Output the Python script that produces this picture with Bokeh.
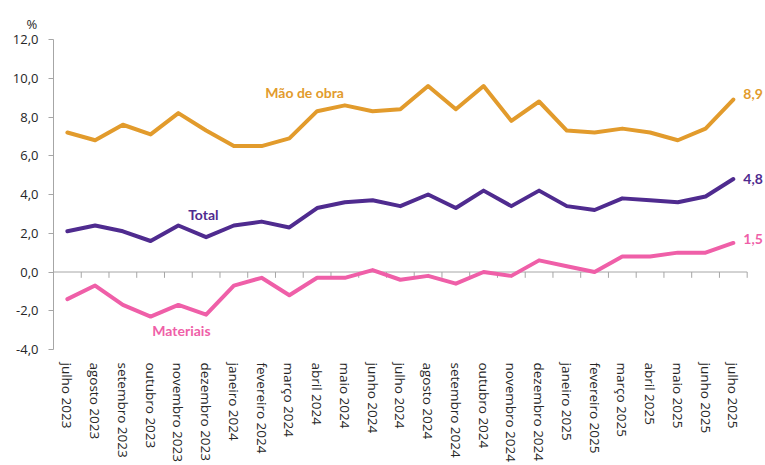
from bokeh.plotting import figure
from bokeh.models import Range1d, FixedTicker
from bokeh.core.properties import value
from bokeh.embed import file_html
from bokeh.resources import INLINE

months = ["julho 2023", "agosto 2023", "setembro 2023", "outubro 2023", "novembro 2023",
          "dezembro 2023", "janeiro 2024", "fevereiro 2024", "março 2024", "abril 2024",
          "maio 2024", "junho 2024", "julho 2024", "agosto 2024", "setembro 2024",
          "outubro 2024", "novembro 2024", "dezembro 2024", "janeiro 2025", "fevereiro 2025",
          "março 2025", "abril 2025", "maio 2025", "junho 2025", "julho 2025"]

mao_de_obra = [7.2, 6.8, 7.6, 7.1, 8.2, 7.3, 6.5, 6.5, 6.9, 8.3, 8.6, 8.3, 8.4,
               9.6, 8.4, 9.6, 7.8, 8.8, 7.3, 7.2, 7.4, 7.2, 6.8, 7.4, 8.9]
total = [2.1, 2.4, 2.1, 1.6, 2.4, 1.8, 2.4, 2.6, 2.3, 3.3, 3.6, 3.7, 3.4,
         4.0, 3.3, 4.2, 3.4, 4.2, 3.4, 3.2, 3.8, 3.7, 3.6, 3.9, 4.8]
materiais = [-1.4, -0.7, -1.7, -2.3, -1.7, -2.2, -0.7, -0.3, -1.2, -0.3, -0.3, 0.1, -0.4,
             -0.2, -0.6, 0.0, -0.2, 0.6, 0.3, 0.0, 0.8, 0.8, 1.0, 1.0, 1.5]

y_ticks = [-4, -2, 0, 2, 4, 6, 8, 10, 12]

series_names = ["Mão de obra", "Total", "Materiais"]
colors = ["#E29B2C", "#4F2B8F", "#EF5FA8"]

n = len(months)
xs = list(range(n))

def fmt(v):
    return f"{v:.1f}".replace(".", ",")

p = figure(width=765, height=465, output_backend="svg", toolbar_location=None,
           x_range=Range1d(-0.5, n - 0.5 + 0.66), y_range=Range1d(-4, 12),
           min_border_left=53, min_border_right=0, min_border_top=39, min_border_bottom=0)
p.outline_line_color = None
p.xgrid.visible = False
p.ygrid.visible = False
p.background_fill_color = "white"
p.border_fill_color = "white"

# unit label as title
p.title.text = "%"
p.title.align = "left"
p.title.offset = -27
p.title.standoff = 14
p.title.text_font = "Open Sans"
p.title.text_font_style = "normal"
p.title.text_font_size = "13px"
p.title.text_color = "#262626"

# y axis
p.yaxis.ticker = FixedTicker(ticks=y_ticks)
p.yaxis.major_label_overrides = {v: fmt(v) for v in y_ticks}
p.yaxis.axis_line_color = "#A6A6A6"
p.yaxis.major_tick_line_color = "#A6A6A6"
p.yaxis.major_tick_out = 5
p.yaxis.major_tick_in = 0
p.yaxis.minor_tick_line_color = None
p.yaxis.major_label_standoff = 10
p.yaxis.major_label_text_font = "Open Sans"
p.yaxis.major_label_text_font_size = "13px"
p.yaxis.major_label_text_color = "#262626"

# x axis (labels only)
p.xaxis.ticker = FixedTicker(ticks=xs)
p.xaxis.major_label_overrides = {i: m for i, m in enumerate(months)}
p.xaxis.major_label_orientation = "vertical"
p.xaxis.axis_line_color = None
p.xaxis.major_tick_line_color = None
p.xaxis.minor_tick_line_color = None
p.xaxis.major_tick_out = 0
p.xaxis.major_tick_in = 0
p.xaxis.major_label_standoff = 13
p.xaxis.major_label_text_font = "Open Sans"
p.xaxis.major_label_text_font_size = "13.5px"
p.xaxis.major_label_text_color = "#262626"

# zero line with category boundary ticks
bounds = [i - 0.5 for i in range(n + 1)]
p.line(x=[bounds[0], bounds[-1]], y=[0, 0], line_color="#A6A6A6", line_width=1)
p.segment(x0=bounds, y0=[0] * len(bounds), x1=bounds, y1=[-0.3] * len(bounds),
          line_color="#A6A6A6", line_width=1)

# series lines
for vals, c in zip([mao_de_obra, total, materiais], colors):
    p.line(x=xs, y=vals, line_color=c, line_width=4, line_join="round", line_cap="round")

# series name labels
name_x = [8.55, 4.9, 4.11]
name_y = [9.28, 2.98, -3.04]
p.text(x=name_x, y=name_y, text=series_names, text_color=colors,
       text_font=value("Lato"), text_font_style="bold", text_font_size="14px",
       text_align="center", text_baseline="middle")

# end value labels
end_vals = [mao_de_obra[-1], total[-1], materiais[-1]]
p.text(x=[n - 1] * 3, y=end_vals, text=[fmt(v) for v in end_vals], text_color=colors,
       text_font=value("Lato"), text_font_style="bold", text_font_size="14px",
       text_align="left", text_baseline="middle", x_offset=10, y_offset=[-6, 0, -4])

open("out.html", "w").write(file_html(p, INLINE))
